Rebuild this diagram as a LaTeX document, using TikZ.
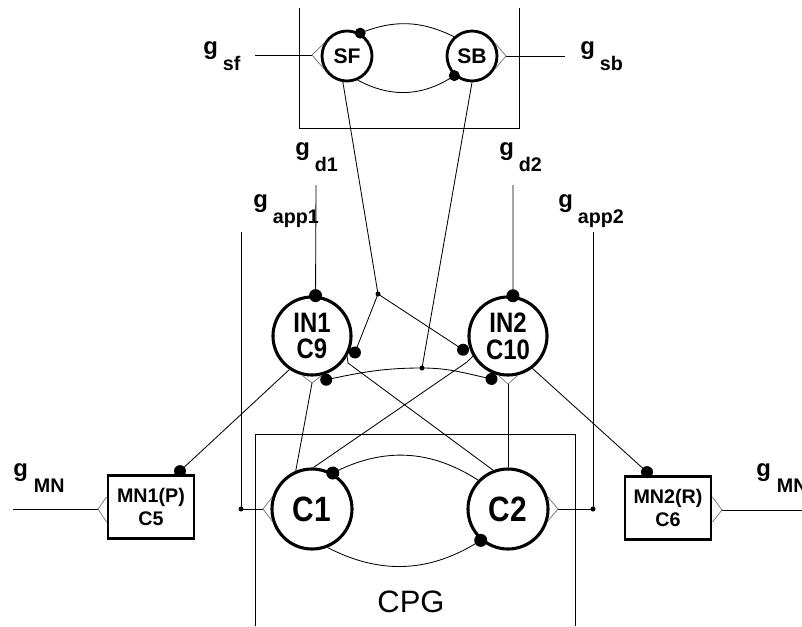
\documentclass[tikz,border=0pt]{standalone}
\usepackage{fontspec}
\setmainfont{Liberation Sans}
\newfontfamily\cellfont{Liberation Sans}[FakeStretch=0.85]
\usetikzlibrary{calc}

\begin{document}
\begin{tikzpicture}[x=0.025cm, y=-0.025cm, line width=0.6pt,
  cell/.style={circle, draw, line width=2.2pt, inner sep=0pt, align=center,
    minimum size=78*\u, font=\cellfont\bfseries\fontsize{20}{19}\selectfont},
  sense/.style={cell, line width=2pt, minimum size=50*\u,
    font=\bfseries\fontsize{15}{17}\selectfont},
  core/.style={cell, minimum size=80*\u,
    font=\cellfont\bfseries\fontsize{25}{28}\selectfont},
  motor/.style={rectangle, draw, line width=2pt, inner sep=0pt, align=center,
    minimum width=86*\u, minimum height=63*\u,
    font=\bfseries\fontsize{14}{16.3}\selectfont},
  syn/.style={draw=black!55, line width=0.5pt},
  glab/.style={anchor=base west, inner sep=0pt, font=\bfseries\fontsize{17}{20}\selectfont},
  sublab/.style={anchor=base west, inner sep=0pt, font=\bfseries\fontsize{14}{16}\selectfont}]
\def\u{0.025cm}
\useasboundingbox (0, 0) rectangle (802, 626);

% boxes
\draw (299, 8) -- (299, 128) -- (519, 128) -- (519, 8);
\draw (255, 626) -- (255, 434) -- (575, 434) -- (575, 626);
\node[anchor=base, inner sep=0pt, font=\fontsize{22}{26}\selectfont] (cpg) at (411, 612) {CPG};

% neurons
\node[sense] (sf) at (347, 56) {SF};
\node[sense] (sb) at (472, 56) {SB};
\node[cell] (in1) at (312, 336) {IN1\\C9};
\node[cell] (in2) at (508, 336) {IN2\\C10};
\node[core] (c1) at (312, 509) {C1};
\node[core] (c2) at (508, 509) {C2};
\node[motor] (mn1) at (151, 507) {MN1(P)\\C5};
\node[motor] (mn2) at (668, 508) {MN2(R)\\C6};

% labels
\node[glab] (lsf) at (203, 54) {g} node[sublab] (lsfs) at ($(lsf.base east)+(4, 16)$) {sf};
\node[glab] (lsb) at (580, 54) {g} node[sublab] (lsbs) at ($(lsb.base east)+(4, 16)$) {sb};
\node[glab] (ld1) at (295, 155) {g} node[sublab] (ld1s) at ($(ld1.base east)+(4, 16)$) {d1};
\node[glab] (ld2) at (499, 155) {g} node[sublab] (ld2s) at ($(ld2.base east)+(4, 16)$) {d2};
\node[glab] (la1) at (253, 207) {g} node[sublab] (la1s) at ($(la1.base east)+(4, 16)$) {app1};
\node[glab] (la2) at (558, 207) {g} node[sublab] (la2s) at ($(la2.base east)+(4, 16)$) {app2};
\node[glab] (lm1) at (13, 476) {g} node[sublab] (lm1s) at ($(lm1.base east)+(5, 16)$) {MN};
\node[glab] (lm2) at (756, 476) {g} node[sublab] (lm2s) at ($(lm2.base east)+(5, 16)$) {MN};

% free ends and junctions
\coordinate (gsf) at (255, 55);
\coordinate (esf) at (312, 55);
\coordinate (esb) at (506, 56);
\coordinate (gsb) at (565, 56);
\coordinate (gd1) at (316, 185);
\coordinate (gd2) at (513, 185);
\coordinate (ga1) at (241, 232);
\coordinate (ja1) at (241, 509);
\coordinate (ec1) at (263, 509);
\coordinate (ga2) at (593, 232);
\coordinate (ja2) at (593, 509);
\coordinate (ec2) at (558, 509);
\coordinate (gm1) at (13, 509);
\coordinate (em1) at (98, 509);
\coordinate (em2) at (722, 510);
\coordinate (gm2) at (802, 510);
\coordinate (j1) at (378, 294);
\coordinate (j2) at (422, 368);
\coordinate (v1) at (312, 383);
\coordinate (v2) at (508, 384);
\coordinate (k1) at (348, 363);
\coordinate (k2) at (467, 362);
\coordinate (in1sf) at ($(in1)!46*\u!(in1.-21)$);
\coordinate (in2sf) at ($(in2)!47*\u!(in2.-163)$);
\coordinate (in1sb) at ($(in1)!46*\u!(in1.-72)$);
\coordinate (in2sb) at ($(in2)!46*\u!(in2.-111)$);
\coordinate (mn1in) at ($(mn1.north)+(29, -3)$);
\coordinate (mn2in) at ($(mn2.north)+(-21, -3)$);

% SF and SB
\draw (gsf) -- (esf);
\draw[syn] (sf.151) -- (esf) -- (sf.209);
\draw (esb) -- (gsb);
\draw[syn] (sb.29) -- (esb) -- (sb.-29);
\draw (sf.60) to[bend left=24] (sb.133);
\draw (sf.-66) to[bend right=31] (sb.-132);
\fill (sf.60) circle (5.5);
\fill (sb.-132) circle (5.5);

\draw (sf.-99) -- (j1) -- (in1sf);
\draw (j1) -- (in2sf);
\draw (sb.south) -- (j2);
\draw (in1sb) to[out=12, in=180] (j2) to[out=0, in=168] (in2sb);
\fill (j1) circle (2.5);
\fill (j2) circle (2.5);
\fill (in1sf) circle (6);
\fill (in2sf) circle (6);
\fill (in1sb) circle (6);
\fill (in2sb) circle (6);

% drives
\draw (gd1) -- (in1.85);
\draw (gd2) -- (in2.83);
\fill (in1.85) circle (6.5);
\fill (in2.83) circle (6.5);

% IN and C
\draw[syn] (in1.-104) -- (v1) -- (in1.-76);
\draw[syn] (in2.-104) -- (v2) -- (in2.-76);
\draw (c1.113) -- (v1);
\draw (c2.90) -- (v2);
\draw (in1.-30) -- (k1) -- (c2.111);
\draw (in2.-150) -- (k2) -- (c1.88);

% C1 and C2
\draw (c1.60) to[bend left=30] (c2.136);
\draw (c1.-68) to[bend right=30] (c2.-131);
\fill (c1.60) circle (6.5);
\fill (c2.-131) circle (6.5);

\draw (ga1) -- (ja1) -- (ec1);
\draw[syn] (c1.163) -- (ec1) -- (c1.197);
\fill (ja1) circle (2.5);
\draw (ga2) -- (ja2) -- (ec2);
\draw[syn] (c2.17) -- (ec2) -- (c2.-17);
\fill (ja2) circle (2.5);

% motor neurons
\draw (in1.-124) -- (mn1in);
\draw (in2.-53) -- (mn2in);
\fill (mn1in) circle (6);
\fill (mn2in) circle (6);
\draw (gm1) -- (em1);
\draw[syn] ($(mn1.west)+(0, -10)$) -- (em1) -- ($(mn1.west)+(0, 15)$);
\draw (em2) -- (gm2);
\draw[syn] ($(mn2.east)+(0, -11)$) -- (em2) -- ($(mn2.east)+(0, 14)$);
\end{tikzpicture}
\end{document}
